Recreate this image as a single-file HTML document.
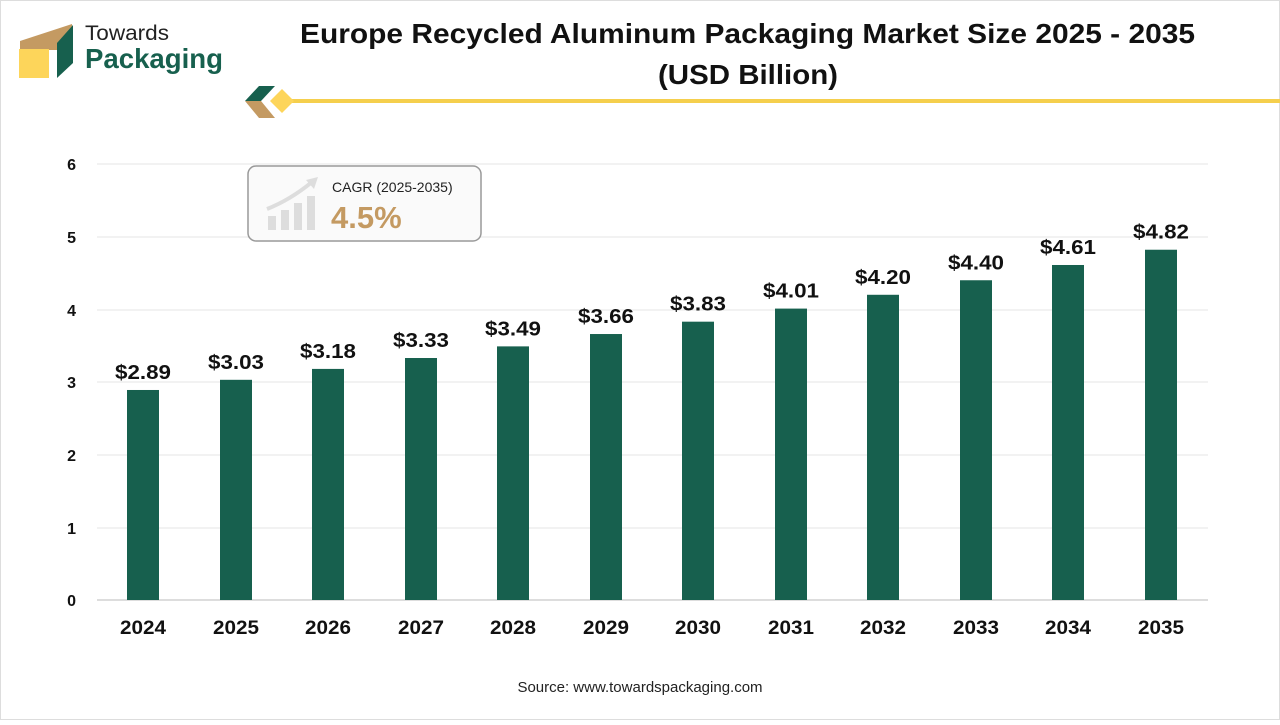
<!DOCTYPE html>
<html><head><meta charset="utf-8"><style>
body{margin:0;width:1280px;height:720px;background:#fff;overflow:hidden;font-family:"Liberation Sans",sans-serif}
</style></head><body>
<svg width="1280" height="720" xmlns="http://www.w3.org/2000/svg" font-family="Liberation Sans, sans-serif">
<rect x="0.5" y="0.5" width="1279" height="719" fill="#fff" stroke="#ddd"/>
<!-- logo -->
<polygon points="20,41 72,24 72,50 20,50" fill="#c49a62"/>
<rect x="19" y="49" width="30" height="29" fill="#fdd55a"/>
<polygon points="57,43 73,25 73,63 57,78" fill="#17604e"/>
<text x="85" y="40" font-size="21" fill="#222" textLength="84" lengthAdjust="spacingAndGlyphs">Towards</text>
<text x="85" y="68" font-size="28" font-weight="bold" fill="#17604e" textLength="138" lengthAdjust="spacingAndGlyphs">Packaging</text>
<!-- title -->
<text x="300" y="43" font-size="28" font-weight="bold" fill="#111" textLength="895" lengthAdjust="spacingAndGlyphs">Europe Recycled Aluminum Packaging Market Size 2025 - 2035</text>
<text x="658" y="84" font-size="28" font-weight="bold" fill="#111" textLength="180" lengthAdjust="spacingAndGlyphs">(USD Billion)</text>
<line x1="285" y1="101" x2="1280" y2="101" stroke="#f5cf4d" stroke-width="4"/>
<polygon points="245,101 259,86 275,86 261,101" fill="#17604e"/>
<polygon points="245,101 261,101 275,118 259,118" fill="#c49a62"/>
<polygon points="270,101 282,89 294,101 282,113" fill="#fdd55a"/>
<!-- grid -->
<g stroke="#e6e6e6" stroke-width="1">
<line x1="97" y1="164" x2="1208" y2="164"/><line x1="97" y1="237" x2="1208" y2="237"/><line x1="97" y1="310" x2="1208" y2="310"/><line x1="97" y1="382" x2="1208" y2="382"/><line x1="97" y1="455" x2="1208" y2="455"/><line x1="97" y1="528" x2="1208" y2="528"/>
</g>
<line x1="97" y1="600" x2="1208" y2="600" stroke="#bbb"/>
<g font-size="16" font-weight="bold" fill="#111" text-anchor="end">
<text x="76" y="170">6</text><text x="76" y="243">5</text><text x="76" y="316">4</text><text x="76" y="388">3</text><text x="76" y="461">2</text><text x="76" y="534">1</text><text x="76" y="606">0</text>
</g>
<g fill="#17604e" id="bars"></g>
<g id="labels" font-size="20" font-weight="bold" fill="#111" text-anchor="middle"></g>
<g id="years" font-size="19" font-weight="bold" fill="#111" text-anchor="middle"></g>
<!-- CAGR box -->
<rect x="248" y="166" width="233" height="75" rx="8" fill="#fafafa" stroke="#999" stroke-width="1.5"/>
<g fill="#ddd"><rect x="268" y="216" width="8" height="14"/><rect x="281" y="210" width="8" height="20"/><rect x="294" y="203" width="8" height="27"/><rect x="307" y="196" width="8" height="34"/></g>
<path d="M267 209 Q290 200 312 182" stroke="#ddd" stroke-width="4" fill="none"/>
<polygon points="306,180 318,177 314,189" fill="#ddd"/>
<text x="332" y="192" font-size="14" fill="#222">CAGR (2025-2035)</text>
<text x="331" y="228" font-size="31" font-weight="bold" fill="#c49a62">4.5%</text>
<text x="640" y="692" font-size="15" text-anchor="middle" fill="#222">Source: www.towardspackaging.com</text>
</svg>
<script>
const v=[2.89,3.03,3.18,3.33,3.49,3.66,3.83,4.01,4.20,4.40,4.61,4.82];
const c=[143,236,328,421,513,606,698,791,883,976,1068,1161];
let b="",l="",y="";
v.forEach((d,i)=>{const h=d*72.67,t=600-h;
b+=`<rect x="${c[i]-16}" y="${t}" width="32" height="${h}"/>`;
l+=`<text x="${c[i]}" y="${t-11}" textLength="56" lengthAdjust="spacingAndGlyphs">$${d.toFixed(2)}</text>`;
y+=`<text x="${c[i]}" y="634" textLength="46" lengthAdjust="spacingAndGlyphs">${2024+i}</text>`;});
document.getElementById('bars').innerHTML=b;
document.getElementById('labels').innerHTML=l;
document.getElementById('years').innerHTML=y;
</script>
</body></html>
